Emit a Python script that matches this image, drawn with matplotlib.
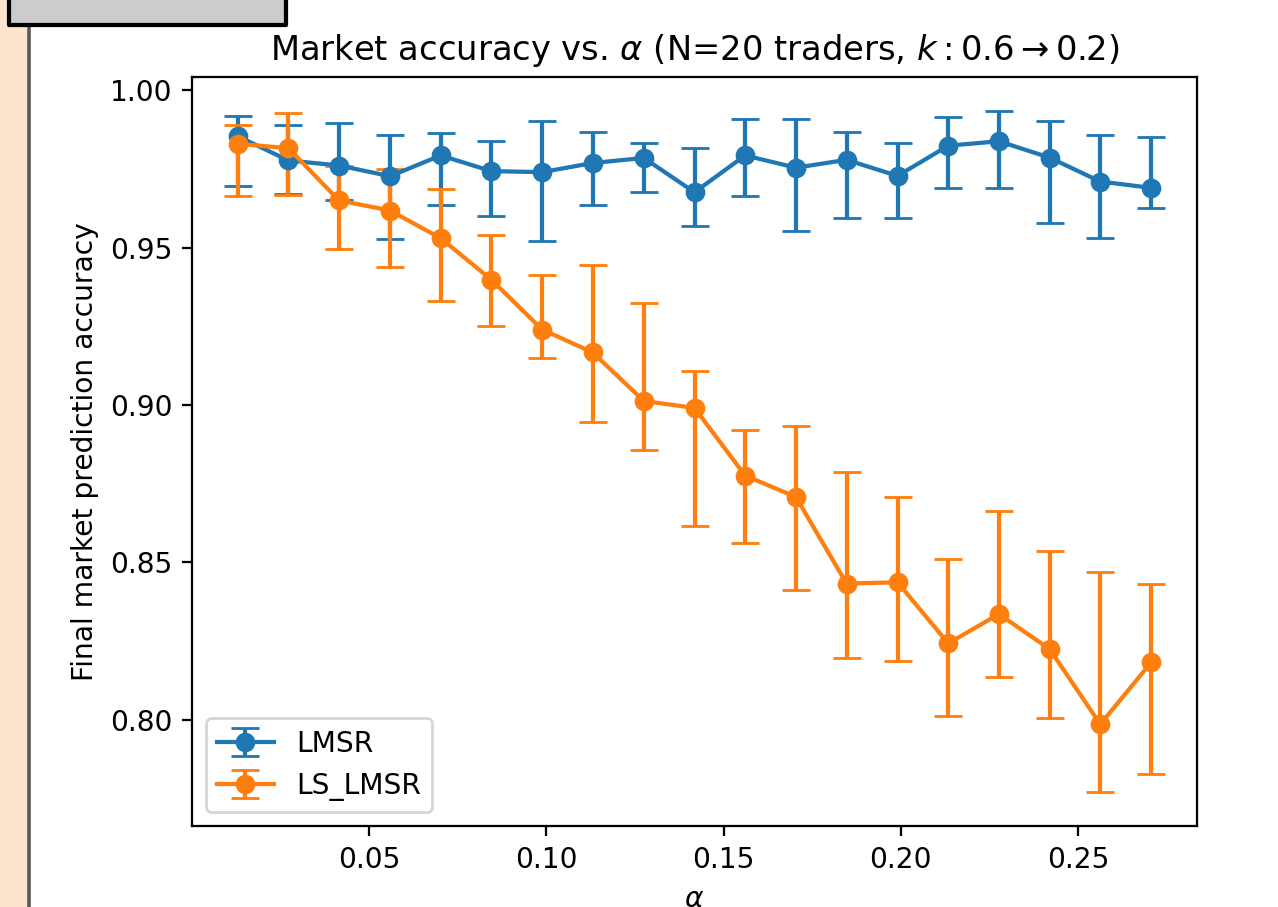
import matplotlib
matplotlib.use("Agg")
import matplotlib.pyplot as plt
from matplotlib.patches import Rectangle
from matplotlib.lines import Line2D
import numpy as np

# alpha values and accuracy stats (mean, lower, upper)
alpha = [0.0129, 0.0272, 0.0415, 0.0559, 0.0702, 0.0845, 0.0988, 0.1131, 0.1275, 0.1418,
         0.1561, 0.1704, 0.1847, 0.1991, 0.2134, 0.2277, 0.2420, 0.2563, 0.2707]

lmsr_mean = [0.9854, 0.9777, 0.9761, 0.9727, 0.9793, 0.9743, 0.9740, 0.9769, 0.9785, 0.9676,
             0.9793, 0.9754, 0.9779, 0.9728, 0.9824, 0.9838, 0.9786, 0.9710, 0.9690]
lmsr_low = [0.9696, 0.9670, 0.9650, 0.9529, 0.9637, 0.9600, 0.9521, 0.9637, 0.9676, 0.9568,
            0.9663, 0.9554, 0.9593, 0.9593, 0.9690, 0.9690, 0.9579, 0.9530, 0.9626]
lmsr_high = [0.9917, 0.9891, 0.9896, 0.9857, 0.9864, 0.9838, 0.9902, 0.9869, 0.9832, 0.9817,
             0.9908, 0.9908, 0.9869, 0.9832, 0.9915, 0.9934, 0.9901, 0.9857, 0.9851]

ls_mean = [0.9830, 0.9816, 0.9650, 0.9618, 0.9530, 0.9398, 0.9240, 0.9167, 0.9013, 0.8991,
           0.8776, 0.8708, 0.8433, 0.8437, 0.8243, 0.8336, 0.8225, 0.7986, 0.8183]
ls_low = [0.9663, 0.9666, 0.9496, 0.9439, 0.9329, 0.9250, 0.9149, 0.8947, 0.8857, 0.8615,
          0.8561, 0.8413, 0.8198, 0.8188, 0.8013, 0.8135, 0.8007, 0.7771, 0.7827]
ls_high = [0.9891, 0.9928, 0.9760, 0.9751, 0.9685, 0.9540, 0.9413, 0.9445, 0.9323, 0.9108,
           0.8920, 0.8934, 0.8786, 0.8707, 0.8511, 0.8665, 0.8535, 0.8469, 0.8431]

W, H = 1278, 907
DPI = 202.6

fig = plt.figure(figsize=(W / DPI, H / DPI), dpi=DPI, facecolor="white")

# screenshot surroundings: peach strip, frame line, grey box
fig.patches.append(Rectangle((0, 0), 27 / W, 1, transform=fig.transFigure,
                             facecolor="#fde4cd", edgecolor="none", zorder=0))
fig.lines.append(Line2D([29 / W, 29 / W], [0, (H - 26) / H], transform=fig.transFigure,
                        color="#5a5a5a", lw=1.3))
fig.patches.append(Rectangle((9 / W, (H - 25) / H), 277 / W, 40 / H, transform=fig.transFigure,
                             facecolor="#cccccc", edgecolor="black", lw=1.5,
                             joinstyle="round", zorder=3))

ax = fig.add_axes([192 / W, (H - 826) / H, (1197 - 192) / W, (826 - 77) / H])

def yerr(mean, low, high):
    m = np.array(mean)
    return [m - np.array(low), np.array(high) - m]

ax.errorbar(alpha, lmsr_mean, yerr=yerr(lmsr_mean, lmsr_low, lmsr_high),
            marker="o", capsize=5, label="LMSR")
ax.errorbar(alpha, ls_mean, yerr=yerr(ls_mean, ls_low, ls_high),
            marker="o", capsize=5, label="LS_LMSR")

ax.set_yticks([0.80, 0.85, 0.90, 0.95, 1.00])
ax.set_xticks([0.05, 0.10, 0.15, 0.20, 0.25])
ax.set_xlabel(r"$\alpha$")
ax.set_ylabel("Final market prediction accuracy")
ax.set_title(r"Market accuracy vs. $\alpha$ (N=20 traders, $k: 0.6 \rightarrow 0.2$)")
ax.legend(loc="lower left")

fig.savefig("out.png", dpi=DPI)
